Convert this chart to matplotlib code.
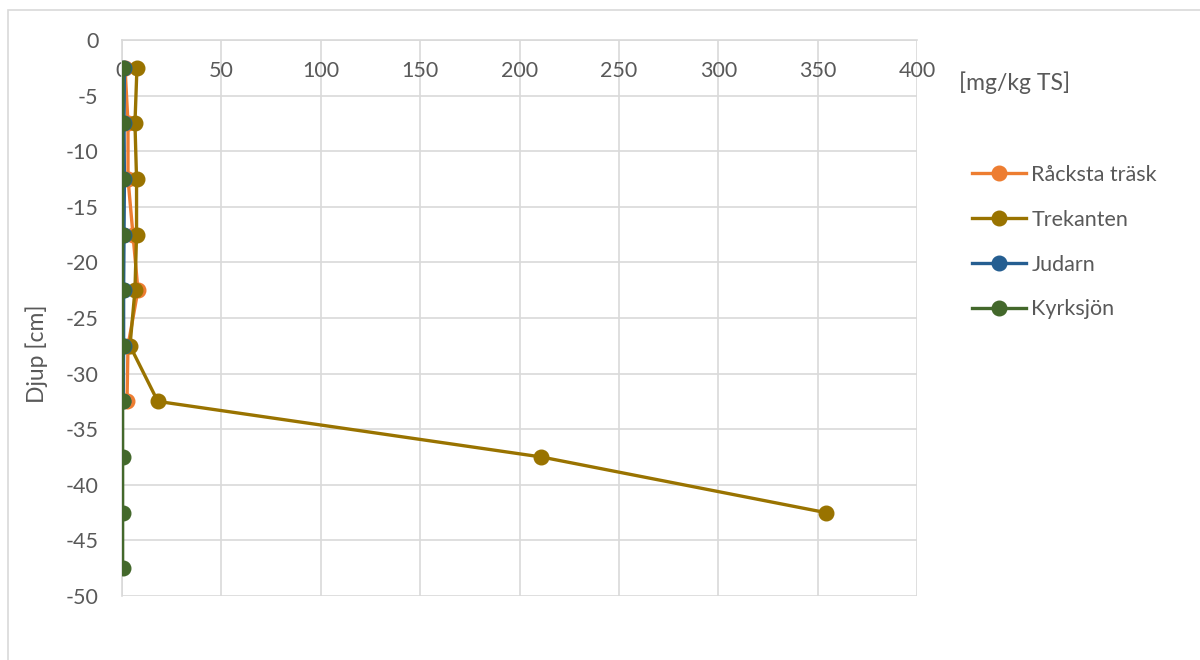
import numpy as np
import matplotlib.pyplot as plt
from matplotlib.patches import Rectangle

# depths (cm) and concentrations (mg/kg TS)
depth_racksta = [-2.5, -7.5, -12.5, -17.5, -22.5, -27.5, -32.5]
racksta = [1.5, 3.0, 3.0, 5.5, 8.0, 3.0, 2.5]

depth_trekanten = [-2.5, -7.5, -12.5, -17.5, -22.5, -27.5, -32.5, -37.5, -42.5]
trekanten = [7.5, 6.5, 7.3, 7.3, 6.5, 4.0, 18.0, 211.0, 354.0]

depth_judarn = [-2.5, -7.5, -12.5, -17.5, -22.5, -27.5, -32.5]
judarn = [1.2, 1.0, 1.2, 1.0, 0.8, 0.8, 0.6]

depth_kyrksjon = [-2.5, -7.5, -12.5, -17.5, -22.5, -27.5, -32.5, -37.5, -42.5, -47.5]
kyrksjon = [0.5, 0.3, 0.3, 0.3, 0.3, 0.3, 0.3, 0.3, 0.3, 0.3]

series = [
    ("Råcksta träsk", racksta, depth_racksta, "#ED7D31"),
    ("Trekanten", trekanten, depth_trekanten, "#997300"),
    ("Judarn", judarn, depth_judarn, "#255E91"),
    ("Kyrksjön", kyrksjon, depth_kyrksjon, "#43682B"),
]

plt.rcParams['font.family'] = ['Lato', 'DejaVu Sans']
plt.rcParams['axes.unicode_minus'] = False
text_col = "#595959"
grid_col = "#D9D9D9"

fig = plt.figure(figsize=(12, 6.6), dpi=100)
fig.patches.append(Rectangle((0.007, -0.1), 1.2, 1.085, transform=fig.transFigure,
                             fill=False, edgecolor=grid_col, linewidth=1.2))
ax = fig.add_axes([0.1017, 0.0970, 0.6625, 0.8424])

for name, x, y, col in series:
    ax.plot(x, y, color=col, linewidth=2.4, marker='o', markersize=10.5,
            label=name, zorder=3)

ax.set_xlim(0, 400)
ax.set_ylim(-50, 0)
ax.set_xticks(np.arange(0, 401, 50))
ax.set_yticks(np.arange(-50, 1, 5))
ax.grid(True, color=grid_col, linewidth=1.2, zorder=0)
ax.set_axisbelow(True)

for s in ['top', 'right']:
    ax.spines[s].set_visible(False)
ax.spines['bottom'].set_position(('data', 0))
ax.spines['bottom'].set_color(grid_col)
ax.spines['bottom'].set_linewidth(1.2)
ax.spines['left'].set_color(grid_col)
ax.spines['left'].set_linewidth(1.2)
ax.tick_params(length=0, labelsize=15.5, labelcolor=text_col)
ax.tick_params(axis='x', pad=15)
ax.tick_params(axis='y', pad=17)

ax.set_ylabel("Djup [cm]", fontsize=16.5, color=text_col)
ax.yaxis.set_label_coords(-0.093, 0.435)

fig.text(0.799, 0.875, "[mg/kg TS]", fontsize=16.5, color=text_col, va='center')

leg = ax.legend(loc='upper left', bbox_to_anchor=(1.045, 0.81), frameon=False,
                fontsize=15.5, labelcolor=text_col, handlelength=2.5,
                handletextpad=0.25, labelspacing=1.15)

fig.savefig("out.png", dpi=100)
